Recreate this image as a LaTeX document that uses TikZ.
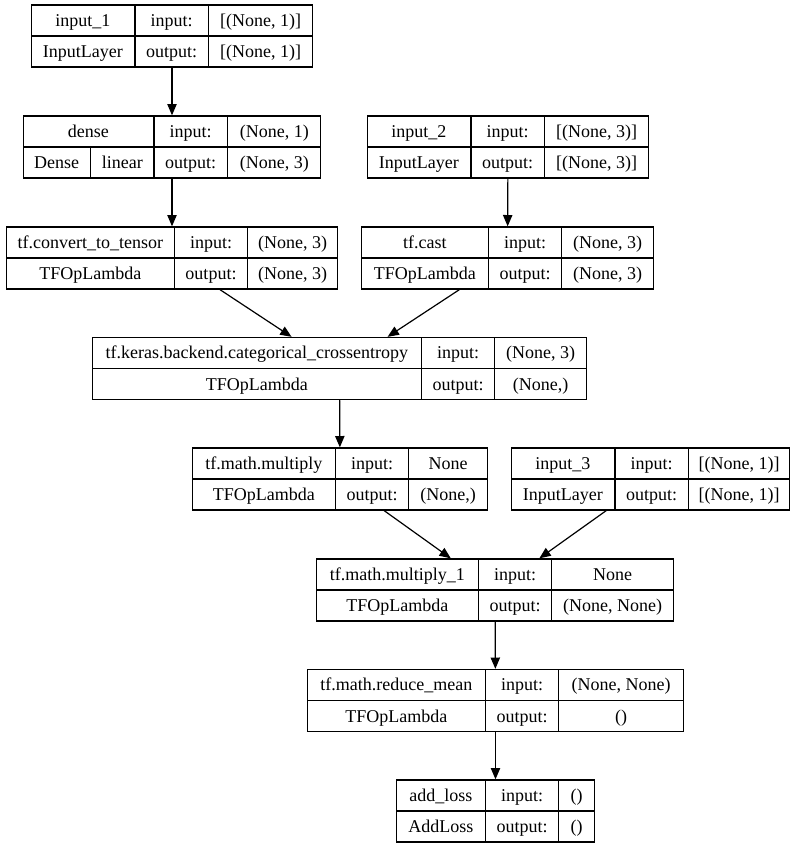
\documentclass[tikz,border=0pt]{standalone}
\usepackage{fontspec}
\setmainfont{Liberation Serif}
\usepackage{array}
\usepackage{tikz}
\usetikzlibrary{arrows.meta}

\newlength{\px}
\setlength{\px}{0.75pt}
\newcolumntype{C}[1]{w{c}{#1\px}}
\setlength{\tabcolsep}{0pt}
\setlength{\arrayrulewidth}{0.9pt}
\renewcommand{\arraystretch}{1.41}

\begin{document}
\begin{tikzpicture}[
  x=0.75pt, y=-0.75pt,
  layer/.style={draw, line width=0.9pt, inner sep=0pt, font=\rmfamily\fontsize{13.5}{16.2}\selectfont},
  arrow/.style={-{Triangle[length=8.5pt, width=7pt]}, line width=0.9pt}
]
\useasboundingbox (0,0) rectangle (797,848);

\node[layer] (input1) at (172,36) {\begin{tabular}{C{103}|C{72}|C{104}}
  input\_1 & input: & [(None, 1)] \\ \hline
  InputLayer & output: & [(None, 1)]
\end{tabular}};
\node[layer] (dense) at (172,147) {\begin{tabular}{C{67}|C{62}|C{72}|C{93}}
  \multicolumn{2}{c|}{dense} & input: & (None, 1) \\ \hline
  Dense & linear & output: & (None, 3)
\end{tabular}};
\node[layer] (input2) at (508,147) {\begin{tabular}{C{103}|C{72}|C{104}}
  input\_2 & input: & [(None, 3)] \\ \hline
  InputLayer & output: & [(None, 3)]
\end{tabular}};
\node[layer] (convert) at (172,258) {\begin{tabular}{C{167}|C{72}|C{89}}
  tf.convert\_to\_tensor & input: & (None, 3) \\ \hline
  TFOpLambda & output: & (None, 3)
\end{tabular}};
\node[layer] (cast) at (507.5,258) {\begin{tabular}{C{126}|C{72}|C{91}}
  tf.cast & input: & (None, 3) \\ \hline
  TFOpLambda & output: & (None, 3)
\end{tabular}};
\node[layer] (xent) at (339.5,368.5) {\begin{tabular}{C{328}|C{72}|C{91}}
  tf.keras.backend.categorical\_crossentropy & input: & (None, 3) \\ \hline
  TFOpLambda & output: & (None,)
\end{tabular}};
\node[layer] (multiply) at (340,479) {\begin{tabular}{C{142}|C{72}|C{78}}
  tf.math.multiply & input: & None \\ \hline
  TFOpLambda & output: & (None,)
\end{tabular}};
\node[layer] (input3) at (650.5,479) {\begin{tabular}{C{103}|C{72}|C{101}}
  input\_3 & input: & [(None, 1)] \\ \hline
  InputLayer & output: & [(None, 1)]
\end{tabular}};
\node[layer] (multiply1) at (495,590) {\begin{tabular}{C{161}|C{72}|C{121}}
  tf.math.multiply\_1 & input: & None \\ \hline
  TFOpLambda & output: & (None, None)
\end{tabular}};
\node[layer] (mean) at (495.5,700.5) {\begin{tabular}{C{177}|C{72}|C{124}}
  tf.math.reduce\_mean & input: & (None, None) \\ \hline
  TFOpLambda & output: & ()
\end{tabular}};
\node[layer] (addloss) at (495.5,811) {\begin{tabular}{C{88}|C{72}|C{35}}
  add\_loss & input: & () \\ \hline
  AddLoss & output: & ()
\end{tabular}};

\draw[arrow] (input1) -- (dense);
\draw[arrow] (dense) -- (convert);
\draw[arrow] (input2) -- (cast);
\draw[arrow] (convert) -- (xent);
\draw[arrow] (cast) -- (xent);
\draw[arrow] (xent) -- (multiply);
\draw[arrow] (multiply) -- (multiply1);
\draw[arrow] (input3) -- (multiply1);
\draw[arrow] (multiply1) -- (mean);
\draw[arrow] (mean) -- (addloss);
\end{tikzpicture}
\end{document}
